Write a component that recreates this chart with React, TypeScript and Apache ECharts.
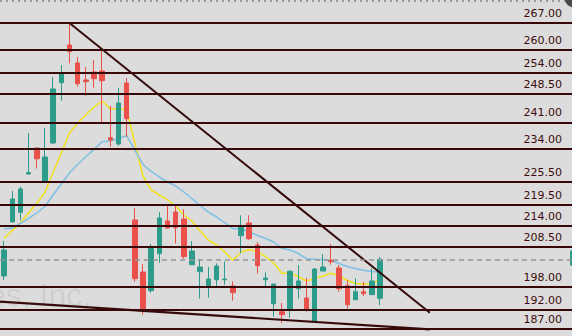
import React, { useEffect, useRef } from "react";
import * as echarts from "echarts";

const categories: string[] = Array.from({ length: 70 }, (_, i) => `D${i + 1}`);

const opens = [200.86, 214.97, 217.51, 227.52, 234.32, 225.69, 235.63, 251.39, 261.25, 256.54, 252.10, 254.19, 254.45, 237.01, 235.37, 251.31, 215.50, 201.90, 197.01, 206.69, 215.24, 217.59, 215.76, 203.81, 201.98, 198.32, 199.89, 199.89, 198.24, 211.39, 214.71, 208.96, 199.89, 193.61, 191.52, 191.97, 197.54, 195.10, 189.01, 202.16, 204.96, 202.95, 198.32, 194.66, 196.75, 195.97, 195.03];
const closes = [207.65, 220.99, 223.60, 227.92, 231.52, 231.97, 249.75, 253.93, 259.50, 251.13, 251.65, 252.44, 251.92, 236.41, 246.08, 241.98, 200.15, 192.31, 208.36, 216.02, 213.41, 213.48, 205.90, 207.39, 203.21, 200.07, 203.47, 200.07, 196.49, 213.85, 210.61, 203.55, 200.33, 198.76, 190.74, 202.08, 199.55, 192.23, 202.69, 203.21, 204.59, 197.54, 193.35, 196.75, 196.23, 199.55, 205.22];
const lows = [199.81, 214.97, 215.42, 227.39, 228.96, 225.17, 235.40, 246.69, 256.46, 250.35, 247.99, 250.08, 240.93, 234.66, 234.92, 237.27, 199.37, 190.74, 196.49, 204.33, 213.22, 209.35, 205.38, 203.70, 194.92, 195.18, 198.24, 198.58, 194.40, 206.79, 210.27, 201.46, 197.98, 190.22, 188.49, 189.95, 194.92, 191.52, 189.00, 202.16, 203.81, 196.75, 192.31, 194.66, 195.55, 195.97, 193.20];
const highs = [210.00, 223.08, 224.20, 238.24, 234.32, 239.55, 252.88, 256.02, 267.00, 258.11, 255.50, 257.33, 260.00, 245.30, 250.01, 252.62, 218.63, 203.99, 209.22, 217.59, 219.42, 219.68, 218.37, 210.00, 205.22, 203.21, 204.18, 204.70, 199.47, 216.73, 216.73, 209.67, 201.82, 198.76, 193.80, 202.35, 203.73, 200.33, 202.95, 206.61, 209.22, 203.73, 199.73, 200.25, 199.29, 202.87, 205.82];

const maFast = [210.66, 212.75, 214.71, 217.33, 219.86, 222.74, 227.92, 233.01, 238.24, 240.86, 242.95, 245.04, 246.61, 244.59, 244.52, 244.44, 235.63, 227.0, 223.34, 222.03, 220.73, 219.16, 216.80, 215.24, 212.62, 210.27, 208.96, 207.13, 204.96, 207.13, 207.78, 207.13, 205.95, 204.25, 201.56, 201.56, 200.73, 199.55, 200.20, 200.86, 201.56, 200.86, 199.68, 198.90, 198.69, 198.76, 199.94];
const maSlow = [213.14, 213.41, 214.63, 215.89, 217.33, 219.03, 222.03, 224.91, 227.78, 230.08, 232.02, 233.95, 235.97, 236.15, 236.86, 237.54, 233.75, 230.01, 228.18, 226.74, 225.43, 224.39, 222.82, 221.04, 219.29, 217.54, 216.28, 214.84, 213.22, 213.22, 212.36, 211.44, 210.66, 209.75, 208.10, 207.65, 206.74, 205.38, 205.22, 205.09, 204.96, 204.12, 203.34, 202.82, 202.37, 202.03, 201.90];

const levels = [267, 260, 254, 248.5, 241, 234, 225.5, 219.5, 214, 208.5, 198, 192, 187];
const lastPrice = 205.22;

const upperTrend = [[8, 267.0], [52.1, 191.26]];
const lowerTrend = [[-0.5, 194.15], [52.1, 186.92]];

const watermark = "es, Inc.";

const GREEN = "#2e9c8a";
const RED = "#e9514a";
const LEVEL = "#380707";

export default function App() {
  const ref = useRef<HTMLDivElement>(null);
  useEffect(() => {
    if (!ref.current) return;
    const chart = echarts.init(ref.current, null, { renderer: "svg" });
    const candles = opens.map((o, i) => [o, closes[i], lows[i], highs[i]]);
    chart.setOption({
      animation: false,
      backgroundColor: "#dcdcdc",
      grid: { left: -0.8, top: 0, width: 576.8, height: 336 },
      xAxis: [
        { type: "category", data: categories, show: false, boundaryGap: true },
        { type: "value", min: -0.5, max: 69.5, show: false },
      ],
      yAxis: { type: "value", min: 185.17, max: 273.013, show: false, scale: true },
      graphic: [
        {
          type: "text",
          x: -12,
          y: 311,
          silent: true,
          z: 0,
          style: {
            text: watermark,
            font: '32px "Liberation Sans"',
            fill: "rgba(0,0,0,0.07)",
            textVerticalAlign: "bottom",
          },
        },
        {
          type: "line",
          silent: true,
          shape: { x1: 0, y1: 1, x2: 572, y2: 1 },
          style: { stroke: "#9a9a9a", lineWidth: 2, lineDash: [2, 4] },
        },
        {
          type: "circle",
          silent: true,
          shape: { cx: 573, cy: -1, r: 8 },
          style: { fill: "#4a4a4a" },
        },
        {
          type: "rect",
          silent: true,
          shape: { x: 570, y: 250, width: 12, height: 16, r: 2 },
          style: { fill: GREEN },
        },
      ],
      series: [
        {
          type: "candlestick",
          data: candles,
          barWidth: 5,
          itemStyle: { color: GREEN, color0: RED, borderColor: GREEN, borderColor0: RED, borderWidth: 1 },
          z: 3,
          markLine: {
            silent: true,
            symbol: "none",
            animation: false,
            data: [
              ...levels.map((v) => ({
                yAxis: v,
                lineStyle: { color: LEVEL, width: 1.8, type: "solid" },
                label: {
                  show: true,
                  position: "insideEndTop",
                  distance: [10, 4],
                  formatter: () => v.toFixed(2),
                  color: "#3d0c0c",
                  fontFamily: "DejaVu Sans",
                  fontSize: 11,
                },
              })),
              {
                yAxis: lastPrice,
                lineStyle: { color: "#959595", width: 1.5, type: [5, 4] },
                label: { show: false },
              },
            ],
          },
        },
        {
          type: "line",
          data: maFast,
          symbol: "none",
          lineStyle: { color: "#f3e01c", width: 1.5 },
          z: 2,
        },
        {
          type: "line",
          data: maSlow,
          symbol: "none",
          lineStyle: { color: "#7cc0e4", width: 1.5 },
          z: 2,
        },
        {
          type: "line",
          xAxisIndex: 1,
          data: upperTrend,
          symbol: "none",
          lineStyle: { color: "#360a0a", width: 2 },
          z: 4,
        },
        {
          type: "line",
          xAxisIndex: 1,
          data: lowerTrend,
          symbol: "none",
          lineStyle: { color: "#360a0a", width: 2.2 },
          z: 4,
        },
      ],
    });
    return () => chart.dispose();
  }, []);
  return <div ref={ref} style={{ width: 572, height: 336, position: "fixed", left: 0, top: 0 }} />;
}
